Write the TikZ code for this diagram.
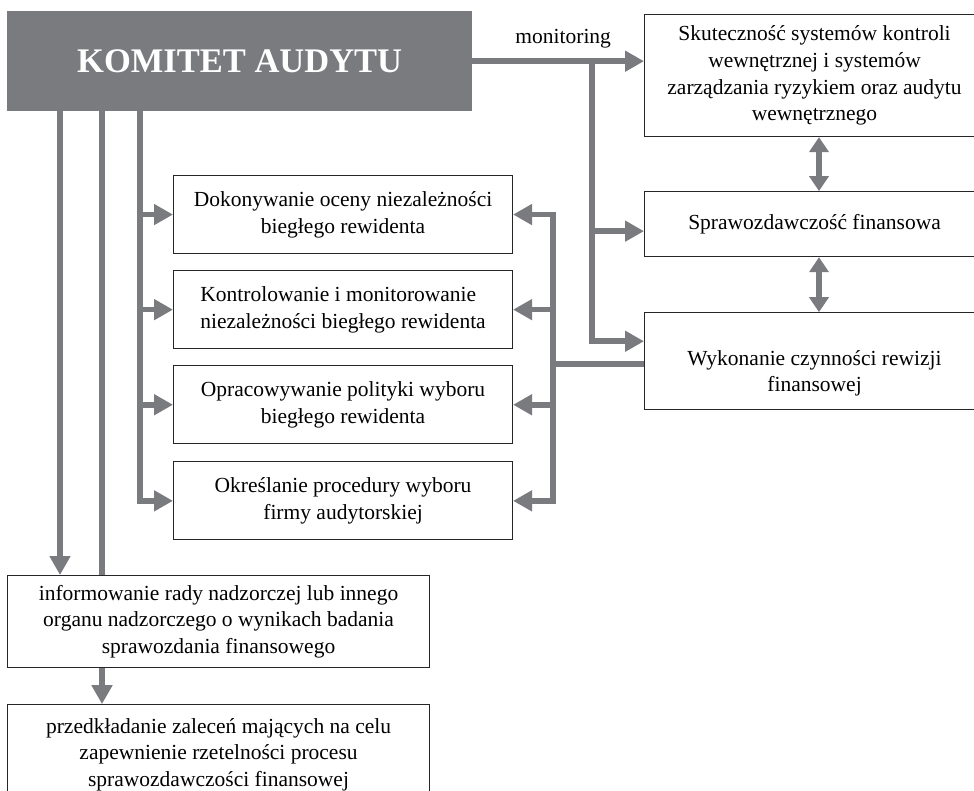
\documentclass[tikz,border=0pt]{standalone}
\usepackage{fontspec}
\setmainfont{Liberation Serif}
\usepackage{xcolor}
\usepackage{tikz}
\usetikzlibrary{arrows.meta, positioning}
\definecolor{kagray}{RGB}{122,123,127}

\begin{document}
\begin{tikzpicture}[
        x=1pt, y=-1pt,
        node distance=16pt,
        box/.style={rectangle, draw=black!85, line width=1.1pt, align=center, inner sep=0pt,
            font=\fontsize{21.5pt}{26.7pt}\selectfont},
        txt/.style={align=center, font=\fontsize{21.5pt}{26.7pt}\selectfont},
        arrow/.style={-{Triangle[length=19pt, width=20pt]}, draw=kagray, line width=5.5pt},
        bus/.style={draw=kagray, line width=5.5pt},
        dbl/.style={{Triangle[length=15pt, width=19pt]}-{Triangle[length=15pt, width=19pt]}, draw=kagray, line width=5.5pt}
    ]
    \useasboundingbox (0,0) rectangle (974,791);

    % Nodes
    \node[fill=kagray, text=white, minimum width=465pt, minimum height=100pt, anchor=north west,
        font=\bfseries\fontsize{34.5pt}{40pt}\selectfont] (komitet) at (7,11) {KOMITET AUDYTU};

    \node[box, minimum width=340pt, minimum height=122pt, anchor=north west] (skut) at (644,14)
        {Skuteczność systemów kontroli\\wewnętrznej i systemów\\zarządzania ryzykiem oraz audytu\\wewnętrznego};
    \node[box, minimum width=340pt, minimum height=65pt, below=54pt of skut] (spraw) {Sprawozdawczość finansowa};
    \node[box, minimum width=340pt, minimum height=97pt, below=55pt of spraw] (wykon) {};
    \node[txt] (wykontxt) at ([yshift=-12pt]wykon.center) {Wykonanie czynności rewizji\\finansowej};

    \node[box, minimum width=339pt, minimum height=78pt, anchor=north west] (ocena) at (173,175)
        {Dokonywanie oceny niezależności\\biegłego rewidenta};
    \node[box, minimum width=339pt, minimum height=78pt, align=left, below=of ocena] (kontrola)
        {Kontrolowanie i monitorowanie\\niezależności biegłego rewidenta};
    \node[box, minimum width=339pt, minimum height=78pt, below=of kontrola] (polityka)
        {Opracowywanie polityki wyboru\\biegłego rewidenta};
    \node[box, minimum width=339pt, minimum height=78pt, below=17pt of polityka] (procedura)
        {Określanie procedury wyboru\\firmy audytorskiej};

    \node[box, minimum width=422pt, minimum height=92pt, anchor=north west] (inform) at (7,575)
        {informowanie rady nadzorczej lub innego\\organu nadzorczego o wynikach badania\\sprawozdania finansowego};
    \node[box, minimum width=422pt, minimum height=100pt, below=36pt of inform] (zalec)
        {przedkładanie zaleceń mających na celu\\zapewnienie rzetelności procesu\\sprawozdawczości finansowej};

    % Bus points
    \coordinate (k1) at (60,110);
    \coordinate (k2) at (102,110);
    \coordinate (k3) at (140,110);
    \coordinate (mon) at (592,61);
    \coordinate (rbus) at (553,364);
    \coordinate (d) at (819,200);
    \coordinate (s1) at ([yshift=-7pt]spraw.west);
    \coordinate (w1) at ([yshift=20pt]wykon.west);

    % Arrows
    \draw[arrow] (komitet.east) -- (komitet.east -| skut.west)
        node[midway, above=7pt, xshift=5pt, txt] {monitoring};
    \draw[arrow] (mon |- s1) -- (s1);
    \draw[arrow] (mon) |- (w1);
    \draw[dbl] (skut.south -| d) -- (spraw.north -| d);
    \draw[dbl] (spraw.south -| d) -- (wykon.north -| d);

    \draw[bus] (wykon.west |- rbus) -- (rbus);
    \draw[arrow] (rbus) |- (ocena.east);
    \draw[arrow] (rbus) |- (procedura.east);
    \foreach \b in {kontrola, polityka}
        \draw[arrow] (rbus |- \b.east) -- (\b.east);

    \draw[arrow] (k3) |- (procedura.west);
    \foreach \b in {ocena, kontrola, polityka}
        \draw[arrow] (k3 |- \b.west) -- (\b.west);

    \draw[arrow] (k1) -- (k1 |- inform.north);
    \draw[bus] (k2) -- (k2 |- inform.north);
    \draw[arrow] (k2 |- inform.south) -- (k2 |- zalec.north);

\end{tikzpicture}
\end{document}
